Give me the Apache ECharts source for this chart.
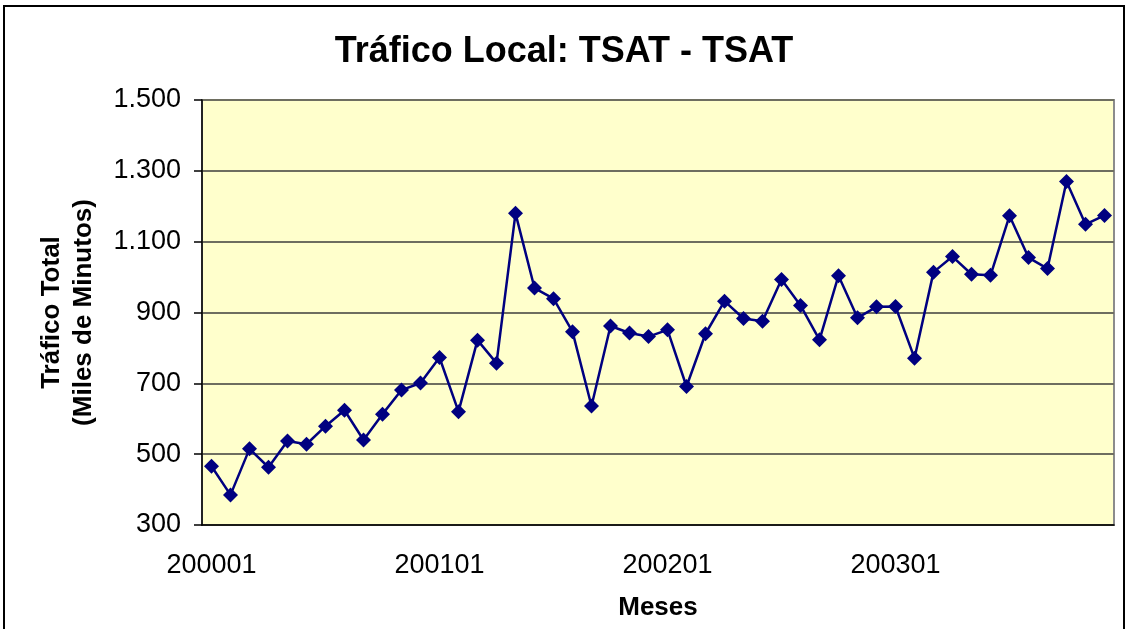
<!DOCTYPE html>
<html>
<head>
<meta charset="utf-8">
<script src="https://cdn.jsdelivr.net/npm/echarts@6/dist/echarts.min.js"></script>
<style>
html,body{margin:0;padding:0;background:#fff;}
#chart{width:1128px;height:629px;}
</style>
</head>
<body>
<div id="chart"></div>
<script>
const months = [
  '200001','200002','200003','200004','200005','200006','200007','200008','200009','200010','200011','200012',
  '200101','200102','200103','200104','200105','200106','200107','200108','200109','200110','200111','200112',
  '200201','200202','200203','200204','200205','200206','200207','200208','200209','200210','200211','200212',
  '200301','200302','200303','200304','200305','200306','200307','200308','200309','200310','200311','200312'
];
const traficoTotal = [
  466, 385, 515, 463, 537, 528, 579, 624, 540, 613, 681, 701,
  773, 620, 822, 757, 1180, 969, 939, 846, 636, 862, 842, 832,
  851, 691, 840, 932, 883, 875, 993, 920, 823, 1004, 885, 916,
  917, 771, 1014, 1058, 1008, 1005, 1173, 1055, 1024, 1270, 1149, 1174
];
const titleText = 'Tráfico Local: TSAT - TSAT';
const xAxisName = 'Meses';
const yAxisName = 'Tráfico Total\n(Miles de Minutos)';
const yMin = 300, yMax = 1500, yStep = 200;

const chart = echarts.init(document.getElementById('chart'), null, {renderer: 'canvas'});
const fontFam = '"Liberation Sans", Arial, sans-serif';
chart.setOption({
  backgroundColor: '#ffffff',
  animation: false,
  title: {
    text: titleText,
    left: 'center',
    top: 29,
    textStyle: {fontFamily: fontFam, fontWeight: 'bold', fontSize: 36, color: '#000'}
  },
  grid: {left: 202, right: 14, top: 100, bottom: 104, show: true, backgroundColor: '#FFFFCC', borderColor: '#8c8c8c', borderWidth: 2},
  graphic: [{
    type: 'rect', shape: {x: 4, y: 6, width: 1120, height: 660},
    style: {fill: 'none', stroke: '#000', lineWidth: 2}, silent: true, z: 100
  }],
  xAxis: {
    type: 'category',
    data: months,
    boundaryGap: true,
    name: xAxisName,
    nameLocation: 'middle',
    nameGap: 70,
    nameTextStyle: {fontFamily: fontFam, fontWeight: 'bold', fontSize: 26, color: '#000'},
    axisLine: {lineStyle: {color: '#000', width: 1.5}},
    axisTick: {interval: 11, length: 8, lineStyle: {color: '#000', width: 1.5}},
    axisLabel: {interval: 11, margin: 27, fontFamily: fontFam, fontSize: 27, color: '#000'},
    splitLine: {show: false}
  },
  yAxis: {
    type: 'value',
    min: yMin, max: yMax, interval: yStep,
    name: yAxisName,
    nameLocation: 'middle',
    nameGap: 102,
    nameTextStyle: {fontFamily: fontFam, fontWeight: 'bold', fontSize: 26, color: '#000', lineHeight: 32, align: 'center'},
    axisLine: {show: true, lineStyle: {color: '#000', width: 1.5}},
    axisTick: {show: true, length: 8, lineStyle: {color: '#000', width: 1.5}},
    axisLabel: {
      margin: 21, fontFamily: fontFam, fontSize: 27, color: '#000',
      formatter: v => String(v).replace(/\B(?=(\d{3})+(?!\d))/g, '.')
    },
    splitLine: {show: true, lineStyle: {color: '#6e6e60', width: 1.8}}
  },
  series: [{
    type: 'line',
    data: traficoTotal,
    symbol: 'diamond',
    symbolSize: 15,
    showAllSymbol: true,
    lineStyle: {color: '#000080', width: 2.5},
    itemStyle: {color: '#000080'}
  }]
});
</script>
</body>
</html>
